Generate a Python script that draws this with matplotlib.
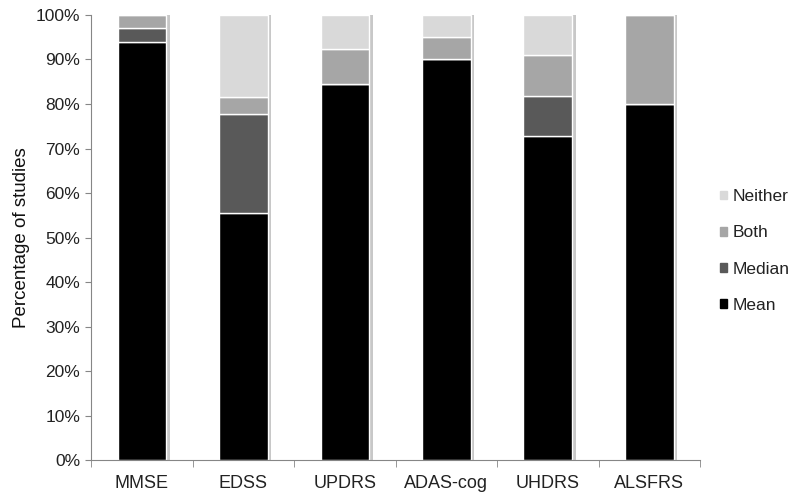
import matplotlib.pyplot as plt
import numpy as np
from matplotlib.ticker import PercentFormatter, FixedLocator
from matplotlib.patches import Patch

plt.rcParams['font.family'] = ['Liberation Sans', 'DejaVu Sans']

categories = ["MMSE", "EDSS", "UPDRS", "ADAS-cog", "UHDRS", "ALSFRS"]
mean = [94.0, 55.6, 84.6, 90.0, 72.7, 80.0]
median = [3.0, 22.2, 0.0, 0.0, 9.1, 0.0]
both = [3.0, 3.7, 7.7, 5.0, 9.1, 20.0]
neither = [0.0, 18.5, 7.7, 5.0, 9.1, 0.0]

series = [("Mean", mean, "#000000"),
          ("Median", median, "#595959"),
          ("Both", both, "#a6a6a6"),
          ("Neither", neither, "#d9d9d9")]

fig = plt.figure(figsize=(8, 4.98), dpi=100)
ax = fig.add_axes([0.114, 0.076, 0.761, 0.894])

x = np.arange(len(categories))
width = 0.48

# faint shadow behind each bar
totals = np.sum([s[1] for s in series], axis=0)
ax.bar(x + 0.035, totals, width, color="#c8c8c8", zorder=1, linewidth=0)

bottom = np.zeros(len(categories))
for name, vals, col in series:
    vals = np.array(vals)
    ax.bar(x, vals, width, bottom=bottom, color=col, edgecolor="white",
           linewidth=1.0, zorder=2, label=name)
    bottom += vals

ax.set_xlim(-0.5, len(categories) - 0.5)
ax.set_ylim(0, 100)
ax.yaxis.set_major_locator(FixedLocator(np.arange(0, 101, 10)))
ax.yaxis.set_major_formatter(PercentFormatter(decimals=0))
ax.set_xticks(x)
ax.set_xticklabels(categories)
ax.xaxis.set_minor_locator(FixedLocator(np.arange(-0.5, len(categories), 1)))
ax.tick_params(axis="x", which="major", length=0, pad=11, labelsize=13, colors="#222222")
ax.tick_params(axis="x", which="minor", length=5, color="#868686")
ax.tick_params(axis="y", length=4, color="#868686", labelsize=12.5, labelcolor="#222222", pad=4)

for s in ["top", "right"]:
    ax.spines[s].set_visible(False)
for s in ["left", "bottom"]:
    ax.spines[s].set_color("#868686")

ax.set_ylabel("Percentage of studies", fontsize=13.5, color="#111111", labelpad=4)

handles = [Patch(color=c, label=n) for n, v, c in series][::-1]
leg = fig.legend(handles=handles, loc="center left", bbox_to_anchor=(0.880, 0.496),
                 frameon=False, fontsize=12.5, handlelength=0.4, handleheight=0.4,
                 handletextpad=0.35, labelspacing=1.22)
for t in leg.get_texts():
    t.set_color("#222222")

fig.savefig("out.png", dpi=100)
